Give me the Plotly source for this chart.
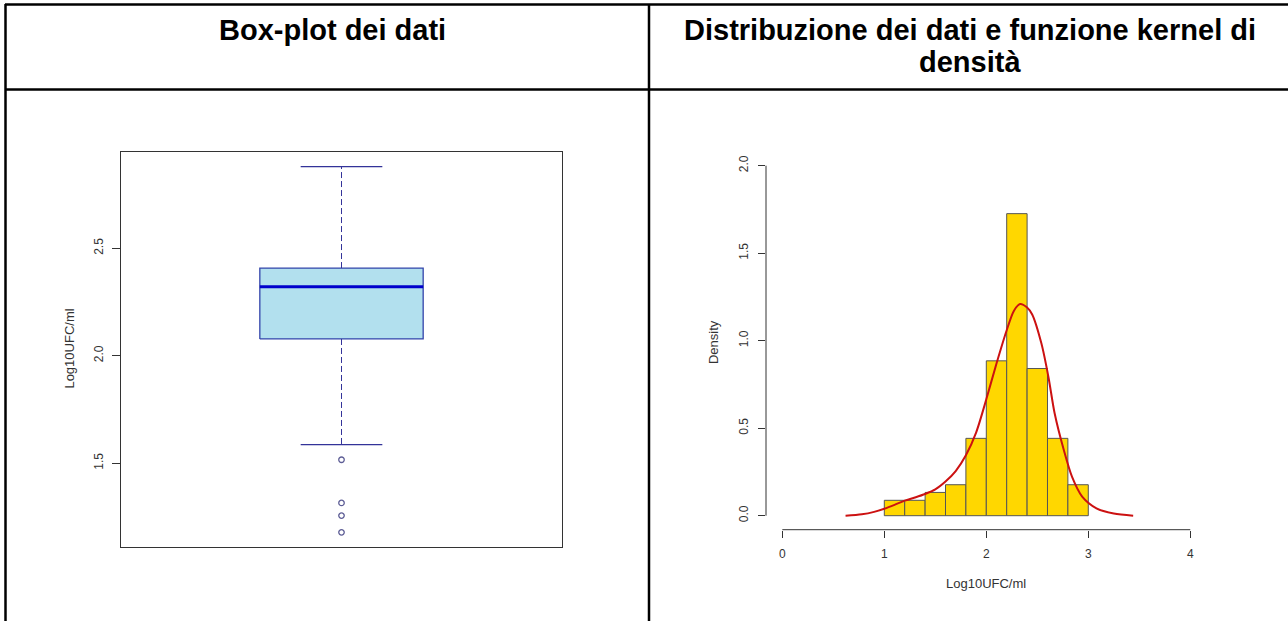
import plotly.graph_objects as go

# ---------------- data ----------------
# Box-plot statistics (Log10UFC/ml)
box_stats = ["lower", "q1", "median", "q3", "upper"]
box_values = [1.586, 2.078, 2.321, 2.408, 2.880]
outliers = [1.516, 1.315, 1.256, 1.178]
box_ticks = [1.5, 2.0, 2.5]
box_ticktext = ["1.5", "2.0", "2.5"]

# Histogram (density scale)
bin_edges = [1.0, 1.2, 1.4, 1.6, 1.8, 2.0, 2.2, 2.4, 2.6, 2.8, 3.0]
densities = [0.088, 0.088, 0.133, 0.177, 0.442, 0.885, 1.726, 0.841, 0.442, 0.177]

# Kernel density curve
kde_x = [0.62, 0.78, 0.90, 1.00, 1.10, 1.20, 1.30, 1.40, 1.50, 1.60, 1.70, 1.80,
         1.90, 2.00, 2.10, 2.20, 2.27, 2.33, 2.40, 2.45, 2.54, 2.61, 2.67, 2.76,
         2.84, 2.94, 3.08, 3.25, 3.44]
kde_y = [0.0, 0.008, 0.022, 0.040, 0.062, 0.086, 0.104, 0.124, 0.150, 0.195, 0.255, 0.345,
         0.475, 0.665, 0.87, 1.06, 1.17, 1.21, 1.19, 1.15, 0.985, 0.79, 0.585, 0.375,
         0.223, 0.109, 0.042, 0.012, 0.0]

hist_xticks = [0, 1, 2, 3, 4]
hist_yticks = [0.0, 0.5, 1.0, 1.5, 2.0]
hist_yticktext = ["0.0", "0.5", "1.0", "1.5", "2.0"]

header_left = "Box-plot dei dati"
header_right = ["Distribuzione dei dati e funzione kernel di", "densità"]
axis_label = "Log10UFC/ml"
density_label = "Density"

# ---------------- layout helpers ----------------
W, H = 1288, 621
def px(x):
    return x / W
def py(y):
    return 1 - y / H

FONT = "Liberation Sans, Arial, sans-serif"
TXT = "#333333"

stats = dict(zip(box_stats, box_values))
fig = go.Figure()

# ---- box plot (axes x/y) ----
c, hw, cap = 1.0, 0.2, 0.1
q1, med, q3 = stats["q1"], stats["median"], stats["q3"]
fig.add_trace(go.Scatter(
    x=[c - hw, c + hw, c + hw, c - hw, c - hw], y=[q1, q1, q3, q3, q1],
    fill="toself", fillcolor="#B2E0EE", mode="lines",
    line=dict(color="#3344AA", width=1.3), xaxis="x", yaxis="y", hoverinfo="skip"))
fig.add_trace(go.Scatter(x=[c - hw, c + hw], y=[med, med], mode="lines",
                         line=dict(color="#0000CC", width=3), xaxis="x", yaxis="y"))
for a, b in [(q3, stats["upper"]), (q1, stats["lower"])]:
    fig.add_trace(go.Scatter(x=[c, c], y=[a, b], mode="lines",
                             line=dict(color="#333399", width=1, dash="6px,3px"),
                             xaxis="x", yaxis="y"))
for v in [stats["upper"], stats["lower"]]:
    fig.add_trace(go.Scatter(x=[c - cap, c + cap], y=[v, v], mode="lines",
                             line=dict(color="#333399", width=1.3), xaxis="x", yaxis="y"))
fig.add_trace(go.Scatter(x=[c] * len(outliers), y=outliers, mode="markers",
                         marker=dict(symbol="circle-open", size=5.5, color="#5E5E96",
                                     line=dict(width=1.3)),
                         xaxis="x", yaxis="y"))

lo = min(outliers + box_values)
hi = max(outliers + box_values)
pad = 0.04 * (hi - lo)

# ---- histogram (axes x2/y2) ----
centers = [(bin_edges[i] + bin_edges[i + 1]) / 2 for i in range(len(densities))]
widths = [bin_edges[i + 1] - bin_edges[i] for i in range(len(densities))]
fig.add_trace(go.Bar(x=centers, y=densities, width=widths,
                     marker=dict(color="#FFD700", line=dict(color="#555555", width=1)),
                     xaxis="x2", yaxis="y2"))
fig.add_trace(go.Scatter(x=kde_x, y=kde_y, mode="lines",
                         line=dict(color="#CC1111", width=2, shape="spline", smoothing=0.8),
                         xaxis="x2", yaxis="y2"))

xr = [hist_xticks[0] - 0.04 * (hist_xticks[-1] - hist_xticks[0]),
      hist_xticks[-1] + 0.04 * (hist_xticks[-1] - hist_xticks[0])]
yr = [hist_yticks[0] - 0.04 * (hist_yticks[-1] - hist_yticks[0]),
      hist_yticks[-1] + 0.04 * (hist_yticks[-1] - hist_yticks[0])]

tickfont = dict(family=FONT, size=12, color=TXT)

fig.update_layout(
    width=W, height=H, margin=dict(l=0, r=0, t=0, b=0),
    paper_bgcolor="white", plot_bgcolor="white", showlegend=False,
    xaxis=dict(domain=[px(121), px(562)], range=[0.46, 1.54], showticklabels=False,
               showgrid=False, zeroline=False, showline=True, mirror=True,
               linecolor="#333333", linewidth=1, ticks="", fixedrange=True),
    yaxis=dict(domain=[py(547), py(152)], range=[lo - pad, hi + pad],
               tickvals=box_ticks, ticktext=box_ticktext, tickangle=-90,
               ticks="outside", ticklen=8, tickcolor="#333333", tickfont=tickfont,
               ticklabelstandoff=4,
               showgrid=False, zeroline=False, showline=True, mirror=True,
               linecolor="#333333", linewidth=1),
    xaxis2=dict(domain=[px(766), px(1206.6)], range=xr, tickvals=hist_xticks,
                ticks="outside", ticklen=7, tickcolor="#333333", tickfont=tickfont,
                ticklabelstandoff=6,
                showgrid=False, zeroline=False, showline=False, anchor="y2"),
    yaxis2=dict(domain=[py(529.7), py(151.7)], range=yr, tickvals=hist_yticks,
                ticktext=hist_yticktext, tickangle=-90,
                ticks="outside", ticklen=7, tickcolor="#333333", tickfont=tickfont,
                ticklabelstandoff=5,
                showgrid=False, zeroline=False, showline=False, anchor="x2"),
)

# R-style axis lines spanning only the tick range
fig.add_shape(type="line", xref="x2", yref="y2 domain", x0=hist_xticks[0], x1=hist_xticks[-1],
              y0=0, y1=0, line=dict(color="#333333", width=1))
fig.add_shape(type="line", xref="x2 domain", yref="y2", x0=0, x1=0,
              y0=hist_yticks[0], y1=hist_yticks[-1], line=dict(color="#333333", width=1))

# table borders
border = dict(color="black", width=2.5)
for (x0, y0, x1, y1) in [(5, 4.5, 1288, 4.5), (5.5, 4, 5.5, 621), (649, 4, 649, 621),
                         (5, 89.5, 1288, 89.5)]:
    fig.add_shape(type="line", xref="paper", yref="paper", x0=px(x0), x1=px(x1),
                  y0=py(y0), y1=py(y1), line=border)

# headers
hfont = dict(family=FONT, size=29, color="black")
for text, xc, yc in [(header_left, 332, 30), (header_right[0], 970, 30), (header_right[1], 970, 62)]:
    fig.add_annotation(text="<b>%s</b>" % text, x=px(xc), y=py(yc), xref="paper",
                       yref="paper", showarrow=False, font=hfont,
                       xanchor="center", yanchor="middle")

# axis titles
afont = dict(family=FONT, size=13, color=TXT)
fig.add_annotation(text=axis_label, x=px(68.6), y=py(349), xref="paper", yref="paper",
                   showarrow=False, font=afont, textangle=-90, xanchor="center", yanchor="middle")
fig.add_annotation(text=density_label, x=px(713.4), y=py(341.7), xref="paper", yref="paper",
                   showarrow=False, font=afont, textangle=-90, xanchor="center", yanchor="middle")
fig.add_annotation(text=axis_label, x=px(986), y=py(583), xref="paper", yref="paper",
                   showarrow=False, font=afont, xanchor="center", yanchor="middle")

fig.write_html("out.html", config={"displayModeBar": False})
with open("out.html", "r", encoding="utf-8") as f:
    html = f.read()
html = html.replace("<head>", "<head><style>body{margin:0;padding:0;overflow:hidden}</style>", 1)
with open("out.html", "w", encoding="utf-8") as f:
    f.write(html)
